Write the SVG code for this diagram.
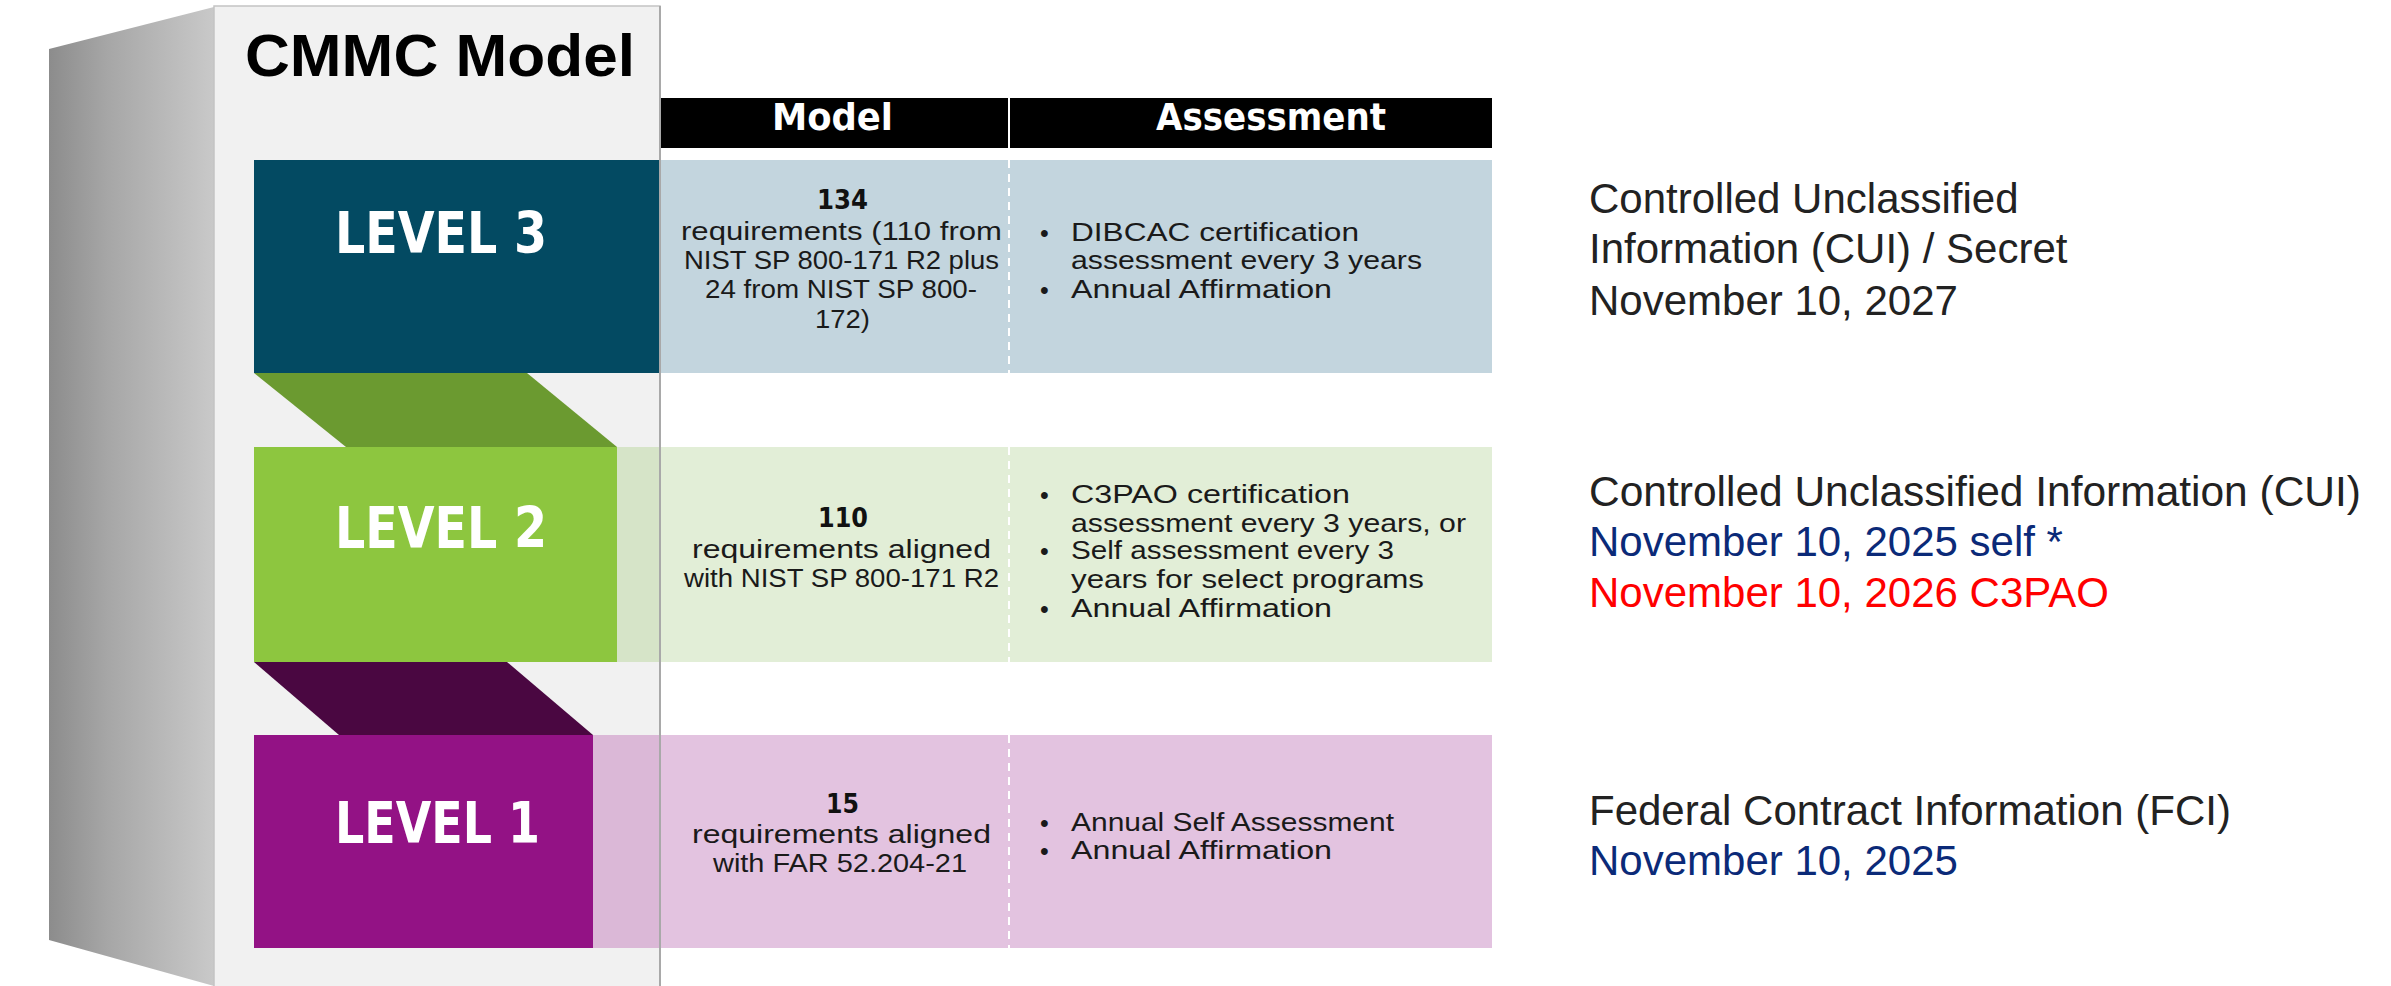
<svg xmlns="http://www.w3.org/2000/svg" width="2391" height="986" viewBox="0 0 2391 986">
<style>
.lvl{font-family:'DejaVu Sans Condensed','DejaVu Sans',sans-serif;font-stretch:condensed;font-weight:bold;fill:#ffffff;font-size:57px}
.hdr{font-family:'DejaVu Sans Condensed','DejaVu Sans',sans-serif;font-stretch:condensed;font-weight:bold;fill:#ffffff;font-size:38px}
.num{font-family:'DejaVu Sans Condensed','DejaVu Sans',sans-serif;font-stretch:condensed;font-weight:bold;fill:#111111;font-size:27px}
.cell{font-family:'Liberation Sans',Arial,sans-serif;fill:#1a1a1a;font-size:25px}
.side{font-family:'Liberation Sans',Arial,sans-serif;font-size:42px;fill:#222222}
.navy{fill:#0b2a78}
.red{fill:#ff0000}
.div{stroke:#ffffff;stroke-width:2;stroke-dasharray:8 6}
</style>
<defs>
<linearGradient id="sideGrad" x1="0" y1="0" x2="1" y2="0">
<stop offset="0" stop-color="#8c8c8c"/>
<stop offset="0.35" stop-color="#a6a6a6"/>
<stop offset="1" stop-color="#c9c9c9"/>
</linearGradient>
</defs>
<rect x="0" y="0" width="2391" height="986" fill="#ffffff"/>

<g id="frame">
<polygon points="49,49 214,7 214,986 49,940" fill="url(#sideGrad)"/>
<rect x="214" y="6" width="446" height="990" fill="#f1f1f1" stroke="#c4c4c4" stroke-width="1.5"/>
<text x="245" y="76" font-family="'Liberation Sans',Arial,sans-serif" font-weight="bold" font-size="60" fill="#000000" textLength="390" lengthAdjust="spacingAndGlyphs">CMMC Model</text>
</g>

<g id="header">
<rect x="660" y="98" width="832" height="50" fill="#000000"/>
<line x1="1009" y1="98" x2="1009" y2="148" stroke="#ffffff" stroke-width="2"/>
<text class="hdr" x="772" y="130" textLength="121" lengthAdjust="spacingAndGlyphs">Model</text>
<text class="hdr" x="1156" y="130" textLength="230" lengthAdjust="spacingAndGlyphs">Assessment</text>
</g>

<g id="level3">
<rect x="660" y="160" width="832" height="213" fill="#c3d5de"/>
<line class="div" x1="1009" y1="160" x2="1009" y2="373"/>
<rect x="254" y="160" width="406" height="213" fill="#034a62"/>
<text class="lvl" x="335" y="253" textLength="212" lengthAdjust="spacingAndGlyphs">LEVEL 3</text>
<text class="num" x="817" y="209" textLength="51" lengthAdjust="spacingAndGlyphs">134</text>
<text class="cell" x="681" y="240" textLength="321" lengthAdjust="spacingAndGlyphs">requirements (110 from</text>
<text class="cell" x="684" y="269" textLength="315" lengthAdjust="spacingAndGlyphs">NIST SP 800-171 R2 plus</text>
<text class="cell" x="705" y="298" textLength="272" lengthAdjust="spacingAndGlyphs">24 from NIST SP 800-</text>
<text class="cell" x="815" y="328" textLength="55" lengthAdjust="spacingAndGlyphs">172)</text>
<text class="cell" x="1040" y="242">•</text>
<text class="cell" x="1071" y="241" textLength="288" lengthAdjust="spacingAndGlyphs">DIBCAC certification</text>
<text class="cell" x="1071" y="269" textLength="351" lengthAdjust="spacingAndGlyphs">assessment every 3 years</text>
<text class="cell" x="1040" y="299">•</text>
<text class="cell" x="1071" y="298" textLength="261" lengthAdjust="spacingAndGlyphs">Annual Affirmation</text>
</g>

<g id="step3to2">
<polygon points="254,373 527,373 617,447 346,447" fill="#6b9a30"/>
</g>

<g id="level2">
<rect x="617" y="447" width="43" height="215" fill="#d6e4c8"/>
<rect x="660" y="447" width="832" height="215" fill="#e2eed7"/>
<line class="div" x1="1009" y1="447" x2="1009" y2="662"/>
<rect x="254" y="447" width="363" height="215" fill="#8dc63f"/>
<text class="lvl" x="335" y="548" textLength="212" lengthAdjust="spacingAndGlyphs">LEVEL 2</text>
<text class="num" x="818" y="527" textLength="50" lengthAdjust="spacingAndGlyphs">110</text>
<text class="cell" x="692" y="558" textLength="299" lengthAdjust="spacingAndGlyphs">requirements aligned</text>
<text class="cell" x="684" y="587" textLength="315" lengthAdjust="spacingAndGlyphs">with NIST SP 800-171 R2</text>
<text class="cell" x="1040" y="504">•</text>
<text class="cell" x="1071" y="503" textLength="279" lengthAdjust="spacingAndGlyphs">C3PAO certification</text>
<text class="cell" x="1071" y="532" textLength="395" lengthAdjust="spacingAndGlyphs">assessment every 3 years, or</text>
<text class="cell" x="1040" y="560">•</text>
<text class="cell" x="1071" y="559" textLength="323" lengthAdjust="spacingAndGlyphs">Self assessment every 3</text>
<text class="cell" x="1071" y="588" textLength="353" lengthAdjust="spacingAndGlyphs">years for select programs</text>
<text class="cell" x="1040" y="618">•</text>
<text class="cell" x="1071" y="617" textLength="261" lengthAdjust="spacingAndGlyphs">Annual Affirmation</text>
</g>

<g id="step2to1">
<polygon points="254,662 507,662 593,735 339,735" fill="#4a0741"/>
</g>

<g id="level1">
<rect x="593" y="735" width="67" height="213" fill="#dbb8d7"/>
<rect x="660" y="735" width="832" height="213" fill="#e3c3e0"/>
<line class="div" x1="1009" y1="735" x2="1009" y2="948"/>
<rect x="254" y="735" width="339" height="213" fill="#931285"/>
<text class="lvl" x="335" y="843" textLength="205" lengthAdjust="spacingAndGlyphs">LEVEL 1</text>
<text class="num" x="826" y="813" textLength="33" lengthAdjust="spacingAndGlyphs">15</text>
<text class="cell" x="692" y="843" textLength="299" lengthAdjust="spacingAndGlyphs">requirements aligned</text>
<text class="cell" x="713" y="872" textLength="254" lengthAdjust="spacingAndGlyphs">with FAR 52.204-21</text>
<text class="cell" x="1040" y="832">•</text>
<text class="cell" x="1071" y="831" textLength="323" lengthAdjust="spacingAndGlyphs">Annual Self Assessment</text>
<text class="cell" x="1040" y="860">•</text>
<text class="cell" x="1071" y="859" textLength="261" lengthAdjust="spacingAndGlyphs">Annual Affirmation</text>
</g>

<g id="frame-edge">
<line x1="660" y1="6" x2="660" y2="986" stroke="#a9a9a9" stroke-width="2"/>
</g>

<g id="info3">
<text class="side" x="1589" y="213">Controlled Unclassified</text>
<text class="side" x="1589" y="263">Information (CUI) / Secret</text>
<text class="side" x="1589" y="315">November 10, 2027</text>
</g>
<g id="info2">
<text class="side" x="1589" y="506" textLength="772" lengthAdjust="spacingAndGlyphs">Controlled Unclassified Information (CUI)</text>
<text class="side navy" x="1589" y="556">November 10, 2025 self *</text>
<text class="side red" x="1589" y="607">November 10, 2026 C3PAO</text>
</g>
<g id="info1">
<text class="side" x="1589" y="825">Federal Contract Information (FCI)</text>
<text class="side navy" x="1589" y="875">November 10, 2025</text>
</g>
<g id="connectors"/>
</svg>
